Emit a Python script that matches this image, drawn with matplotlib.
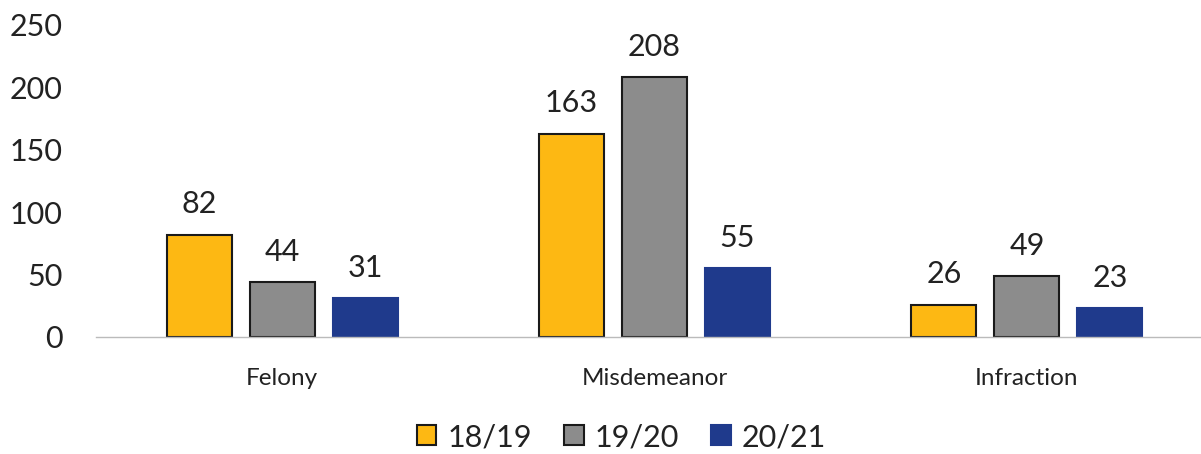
import matplotlib
matplotlib.use("Agg")
import matplotlib.pyplot as plt
import numpy as np

categories = ["Felony", "Misdemeanor", "Infraction"]
series_names = ["18/19", "19/20", "20/21"]
values_1819 = [82, 163, 26]
values_1920 = [44, 208, 49]
values_2021 = [31, 55, 23]
yticks = [0, 50, 100, 150, 200, 250]

colors = ["#FDB813", "#8C8C8C", "#1F3A8C"]
edges = ["#1a1a1a", "#1a1a1a", "#1F3A8C"]

plt.rcParams['font.family'] = ['Lato', 'DejaVu Sans']

fig = plt.figure(figsize=(12.01, 4.54), dpi=100)
ax = fig.add_axes([96/1201, 1 - 337/454, (1200-96)/1201, (337-25)/454])

x = np.arange(len(categories))
width = 0.175
step = 0.223
all_vals = [values_1819, values_1920, values_2021]
for i, (name, vals) in enumerate(zip(series_names, all_vals)):
    bars = ax.bar(x + (i - 1) * step, vals, width, color=colors[i],
                  edgecolor=edges[i], linewidth=1.5, label=name)
    for b, v in zip(bars, vals):
        ax.text(b.get_x() + b.get_width() / 2, v + 13, str(v),
                ha="center", va="bottom", fontsize=22, color="#222222")

ax.set_xlim(-0.5, 2.465)
ax.set_ylim(0, 250)
ax.set_yticks(yticks)
ax.set_yticklabels([str(t) for t in yticks], fontsize=22, color="#222222")
ax.set_xticks(x)
ax.set_xticklabels(categories, fontsize=17.5, color="#222222")
ax.tick_params(axis="both", length=0)
ax.tick_params(axis="y", pad=24)
ax.tick_params(axis="x", pad=22)
for s in ["top", "right", "left"]:
    ax.spines[s].set_visible(False)
ax.spines["bottom"].set_color("#bbbbbb")
ax.spines["bottom"].set_linewidth(1)

leg = fig.legend(loc="center", bbox_to_anchor=(621/1201, 1 - 437/454), ncol=3,
                 frameon=False, fontsize=22, handlelength=0.65, handleheight=0.65,
                 handletextpad=0.35, columnspacing=1.05)
for t in leg.get_texts():
    t.set_color("#222222")

fig.savefig("out.png", dpi=100)
